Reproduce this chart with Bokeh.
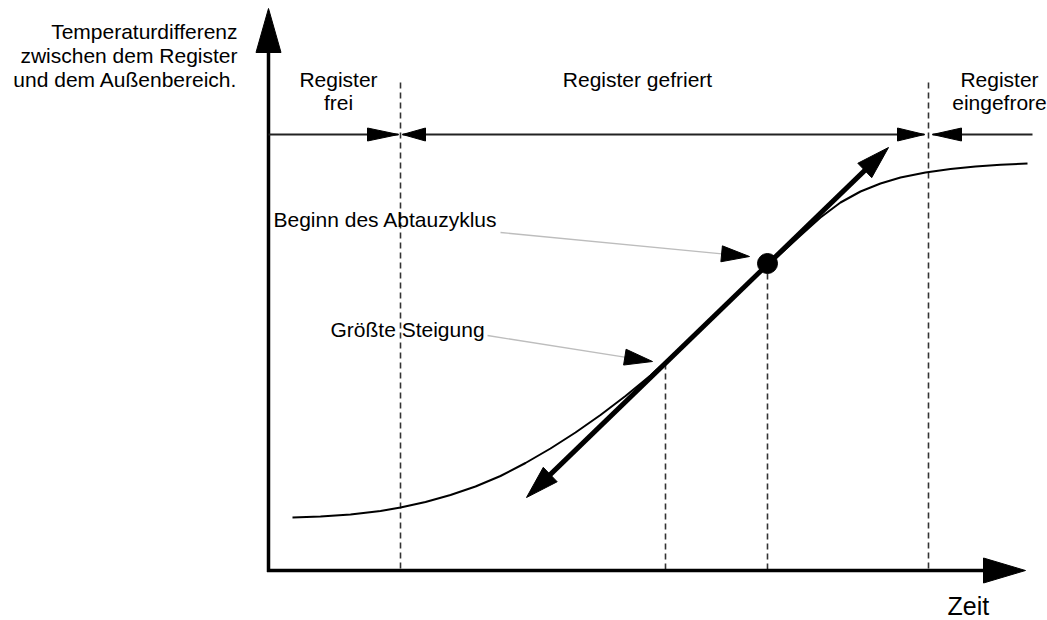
import math
from bokeh.plotting import figure
from bokeh.models import Range1d
from bokeh.core.properties import value
from bokeh.embed import file_html
from bokeh.resources import INLINE

# ---------------- data (diagram units = reference pixels, y downward) ----------------
# Temperature-difference curve
curve_x = [292, 320, 350, 380, 400, 425, 450, 475, 500, 525, 550, 575, 600, 625, 650,
           675, 700, 725, 750, 775, 800, 820, 840, 860, 880, 900, 925, 950, 975, 1000, 1027]
curve_y = [517, 516, 514, 510.5, 507, 501.5, 494.5, 486, 475.5, 462.5, 448, 432, 414.5,
           395.5, 375, 352, 328.5, 305, 281, 258, 235, 217, 202, 191, 183, 177, 172,
           168.5, 166, 164.3, 163]

# Axes
origin = (268, 570)
y_axis_tip = (268, 8)
x_axis_tip = (1025, 570)

# Tangent of greatest slope (two-headed arrow)
tangent_start = (526, 497)
tangent_end = (888, 147)

# Phase boundaries and markers
phase_y = 134
phase_bounds = [400, 928]
phase_top = 82
slope_x = 665
slope_y = 363
defrost_x = 767
defrost_y = 263

# Phase intervals: (start, end, head length at start, head length at end)
phase_segments = [
    (268, 398, None, 31),
    (402, 924, 23, 27),
    (932, 1032, 29, None),
]

# Leader lines for annotations: (start, tip)
leaders = [((500, 232), (749, 256)),
           ((487, 335), (652, 361))]

# Texts (y = text baseline)
ylabel_lines = ["Temperaturdifferenz", "zwischen dem Register", "und dem Außenbereich."]
ylabel_baselines = [39, 63, 87]
phase_labels = [["Register", "frei"], ["Register gefriert"], ["Register", "eingefrore"]]
phase_label_x = [338, 637, 999]
label_baselines = [87, 110]
annot_texts = ["Beginn des Abtauzyklus", "Größte Steigung"]
annot_x = [273, 330]
annot_y = [227, 337]
xlabel = "Zeit"
xlabel_pos = (947, 615)

# ---------------- helpers ----------------
def head(tip, frm, length, width):
    dx, dy = tip[0] - frm[0], tip[1] - frm[1]
    n = math.hypot(dx, dy)
    ux, uy = dx / n, dy / n
    bx, by = tip[0] - ux * length, tip[1] - uy * length
    px, py = -uy, ux
    xs = [tip[0], bx + px * width / 2, bx - px * width / 2]
    ys = [tip[1], by + py * width / 2, by - py * width / 2]
    return xs, ys

def back(tip, frm, d):
    dx, dy = tip[0] - frm[0], tip[1] - frm[1]
    n = math.hypot(dx, dy)
    return (tip[0] - dx / n * d, tip[1] - dy / n * d)

# renderer baseline correction (px per px of font size)
BASE_FIX = 8.0 / 21.0

def by(ys, size):
    return [y - BASE_FIX * size for y in ys]

W, H = 1047, 620
p = figure(width=W, height=H, x_range=Range1d(0, W), y_range=Range1d(H, 0),
           x_axis_type=None, y_axis_type=None, min_border=0,
           toolbar_location=None, output_backend="svg")
p.grid.visible = False
p.outline_line_color = None
p.background_fill_color = "white"

FONT = value("Liberation Sans")
BLACK = "#000000"

# dashed vertical lines
p.segment(x0=phase_bounds + [slope_x, defrost_x],
          y0=[phase_top, phase_top, slope_y, defrost_y],
          x1=phase_bounds + [slope_x, defrost_x],
          y1=[origin[1]] * 4,
          line_color="#333333", line_width=1.6, line_dash="6 4")

# curve
p.line(curve_x, curve_y, line_color=BLACK, line_width=2)

# axes
yb = back(y_axis_tip, origin, 40)
p.line([origin[0], yb[0]], [origin[1] + 1.5, yb[1]], line_color=BLACK, line_width=3.5)
hx, hy = head(y_axis_tip, origin, 44, 25)
p.patch(hx, hy, fill_color=BLACK, line_color=BLACK)
xb = back(x_axis_tip, origin, 38)
p.line([origin[0] - 1.5, xb[0]], [origin[1], xb[1]], line_color=BLACK, line_width=3.5)
hx, hy = head(x_axis_tip, origin, 42, 25)
p.patch(hx, hy, fill_color=BLACK, line_color=BLACK)

# phase line with arrows
for s, e, hs, he in phase_segments:
    p.line([s, e], [phase_y, phase_y], line_color="#222222", line_width=2)
    if hs:
        hx, hy = head((s, phase_y), (e, phase_y), hs, 13)
        p.patch(hx, hy, fill_color=BLACK, line_color=BLACK)
    if he:
        hx, hy = head((e, phase_y), (s, phase_y), he, 13)
        p.patch(hx, hy, fill_color=BLACK, line_color=BLACK)

# tangent arrow
a = back(tangent_start, tangent_end, 20)
b = back(tangent_end, tangent_start, 20)
p.line([a[0], b[0]], [a[1], b[1]], line_color=BLACK, line_width=5)
for tip, frm in [(tangent_start, tangent_end), (tangent_end, tangent_start)]:
    hx, hy = head(tip, frm, 33, 20)
    p.patch(hx, hy, fill_color=BLACK, line_color=BLACK)

# defrost start dot
p.scatter([defrost_x], [defrost_y], size=20, fill_color=BLACK, line_color=BLACK)

# leader lines
for (st, tip) in leaders:
    bb = back(tip, st, 25)
    p.line([st[0], bb[0]], [st[1], bb[1]], line_color="#bdbdbd", line_width=1.3)
    hx, hy = head(tip, st, 28, 16)
    p.patch(hx, hy, fill_color=BLACK, line_color=BLACK)

# texts
p.text(x=[237] * 3, y=by(ylabel_baselines, 21), text=ylabel_lines, text_font=FONT,
       text_font_size="21px", text_align="right", text_baseline="alphabetic", text_color=BLACK)

for lines, cx in zip(phase_labels, phase_label_x):
    for i, t in enumerate(lines):
        p.text(x=[cx], y=by([label_baselines[i]], 21), text=[t], text_font=FONT,
               text_font_size="21px", text_align="center", text_baseline="alphabetic",
               text_color=BLACK)

p.text(x=annot_x, y=by(annot_y, 21), text=annot_texts, text_font=FONT, text_font_size="21px",
       text_align="left", text_baseline="alphabetic", text_color=BLACK)

p.text(x=[xlabel_pos[0]], y=by([xlabel_pos[1]], 25), text=[xlabel], text_font=FONT,
       text_font_size="25px", text_align="left", text_baseline="alphabetic", text_color=BLACK)

open("out.html", "w").write(file_html(p, INLINE))
